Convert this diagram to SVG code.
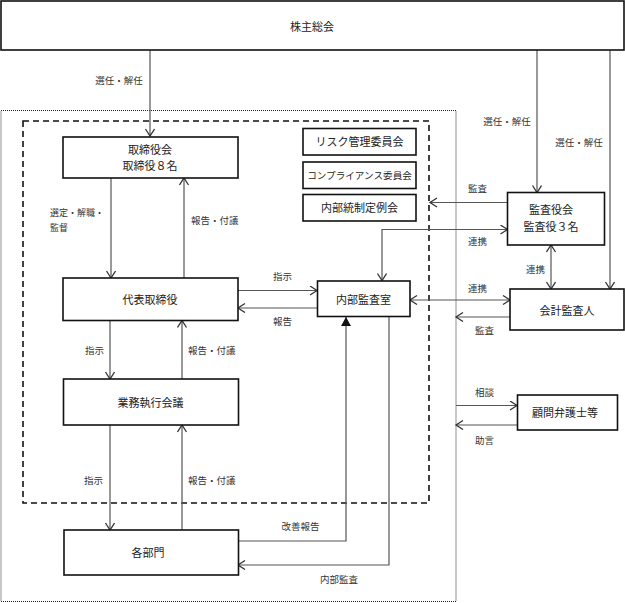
<svg xmlns="http://www.w3.org/2000/svg" width="625" height="603" viewBox="0 0 625 603">
<style>
.box{fill:#fff;stroke:#111;stroke-width:1.6}
.bt{font-family:"Noto Sans CJK JP","Noto Sans CJK SC",sans-serif;font-size:11px;fill:#222;text-anchor:middle}
.lb{font-family:"Noto Sans CJK JP","Noto Sans CJK SC",sans-serif;font-size:9.5px;fill:#333}
.c{fill:none;stroke:#555;stroke-width:1.2}
</style>
<defs>
<marker id="a" markerUnits="userSpaceOnUse" markerWidth="12" markerHeight="12" refX="8" refY="5" orient="auto-start-reverse">
<path d="M1,0.5 L8,5 L1,9.5" fill="none" stroke="#333" stroke-width="1.3"/>
</marker>
<marker id="t" markerUnits="userSpaceOnUse" markerWidth="12" markerHeight="12" refX="9" refY="5" orient="auto">
<path d="M0,0 L9,5 L0,10 Z" fill="#111"/>
</marker>
</defs>
<rect x="1" y="110.5" width="455" height="491" fill="none" stroke="#222" stroke-width="1" stroke-dasharray="1,1"/>
<rect x="23" y="121" width="406" height="382" fill="none" stroke="#111" stroke-width="1.6" stroke-dasharray="6,4"/>
<g id="connectors">
<path class="c" d="M150,50 V136" marker-end="url(#a)"/>
<path class="c" d="M537,50 V192.5" marker-end="url(#a)"/>
<path class="c" d="M610,50 V289" marker-end="url(#a)"/>
<path class="c" d="M111,178 V278" marker-end="url(#a)"/>
<path class="c" d="M184,278 V178" marker-end="url(#a)"/>
<path class="c" d="M238,290.5 H317" marker-end="url(#a)"/>
<path class="c" d="M317,308 H238" marker-end="url(#a)"/>
<path class="c" d="M110,320.5 V379" marker-end="url(#a)"/>
<path class="c" d="M182,379 V320.5" marker-end="url(#a)"/>
<path class="c" d="M110,425 V530" marker-end="url(#a)"/>
<path class="c" d="M182,530 V425" marker-end="url(#a)"/>
<path class="c" d="M238,541 H346 V317" marker-end="url(#t)"/>
<path class="c" d="M389,316.5 V565 H238" marker-end="url(#a)"/>
<path class="c" d="M507.5,202.5 H430" marker-end="url(#a)"/>
<path class="c" d="M507.5,229.5 H382 V280.5" marker-start="url(#a)" marker-end="url(#a)"/>
<path class="c" d="M410,300 H510" marker-start="url(#a)" marker-end="url(#a)"/>
<path class="c" d="M551,245 V289" marker-start="url(#a)" marker-end="url(#a)"/>
<path class="c" d="M510,317 H456" marker-end="url(#a)"/>
<path class="c" d="M456,405.5 H517" marker-end="url(#a)"/>
<path class="c" d="M517,425 H456" marker-end="url(#a)"/>
<text class="lb" x="119" y="84" text-anchor="middle">選任・解任</text>
<text class="lb" x="507" y="124.5" text-anchor="middle">選任・解任</text>
<text class="lb" x="579" y="146" text-anchor="middle">選任・解任</text>
<text class="lb" x="50" y="216" style="font-size:9px">選定・解職・</text>
<text class="lb" x="50" y="231" style="font-size:9px">監督</text>
<text class="lb" x="191" y="223.5">報告・付議</text>
<text class="lb" x="273" y="280">指示</text>
<text class="lb" x="273" y="325">報告</text>
<text class="lb" x="468" y="192">監査</text>
<text class="lb" x="468" y="245">連携</text>
<text class="lb" x="526" y="273">連携</text>
<text class="lb" x="468" y="292">連携</text>
<text class="lb" x="475" y="333.5">監査</text>
<text class="lb" x="85" y="354">指示</text>
<text class="lb" x="188" y="354">報告・付議</text>
<text class="lb" x="475" y="396">相談</text>
<text class="lb" x="475" y="443.5">助言</text>
<text class="lb" x="84" y="484">指示</text>
<text class="lb" x="188" y="484">報告・付議</text>
<text class="lb" x="281.5" y="530">改善報告</text>
<text class="lb" x="320" y="582.5">内部監査</text>
</g>
<g id="n-shareholders"><rect class="box" x="1" y="1" width="623" height="49"/><text class="bt" x="312" y="31">株主総会</text></g>
<g id="n-board"><rect class="box" x="63" y="137" width="175" height="41"/><text class="bt" x="150" y="154">取締役会</text><text class="bt" x="150" y="170">取締役８名</text></g>
<g id="n-risk"><rect class="box" x="303" y="128.5" width="113" height="26.5"/><text class="bt" x="359.5" y="145.5">リスク管理委員会</text></g>
<g id="n-compliance"><rect class="box" x="303" y="162" width="113" height="26.5"/><text class="bt" x="359.5" y="179" style="font-size:9.6px">コンプライアンス委員会</text></g>
<g id="n-internalcontrol"><rect class="box" x="303" y="194.5" width="113" height="26.5"/><text class="bt" x="359.5" y="211.5">内部統制定例会</text></g>
<g id="n-ceo"><rect class="box" x="63" y="278" width="175" height="42.5"/><text class="bt" x="150" y="304">代表取締役</text></g>
<g id="n-exec"><rect class="box" x="63.5" y="379" width="175" height="46"/><text class="bt" x="150.5" y="406.5">業務執行会議</text></g>
<g id="n-depts"><rect class="box" x="64" y="530" width="174.5" height="45"/><text class="bt" x="148" y="556.5">各部門</text></g>
<g id="n-audit"><rect class="box" x="317.5" y="281" width="92.5" height="35.5"/><text class="bt" x="363.5" y="304">内部監査室</text></g>
<g id="n-kansayaku"><rect class="box" x="507.5" y="192.5" width="97" height="52.5"/><text class="bt" x="551" y="214">監査役会</text><text class="bt" x="551" y="230.5">監査役３名</text></g>
<g id="n-accountant"><rect class="box" x="510" y="289" width="114" height="41"/><text class="bt" x="567" y="314.5">会計監査人</text></g>
<g id="n-lawyer"><rect class="box" x="517.5" y="395" width="100" height="35"/><text class="bt" x="565" y="417">顧問弁護士等</text></g>
</svg>
